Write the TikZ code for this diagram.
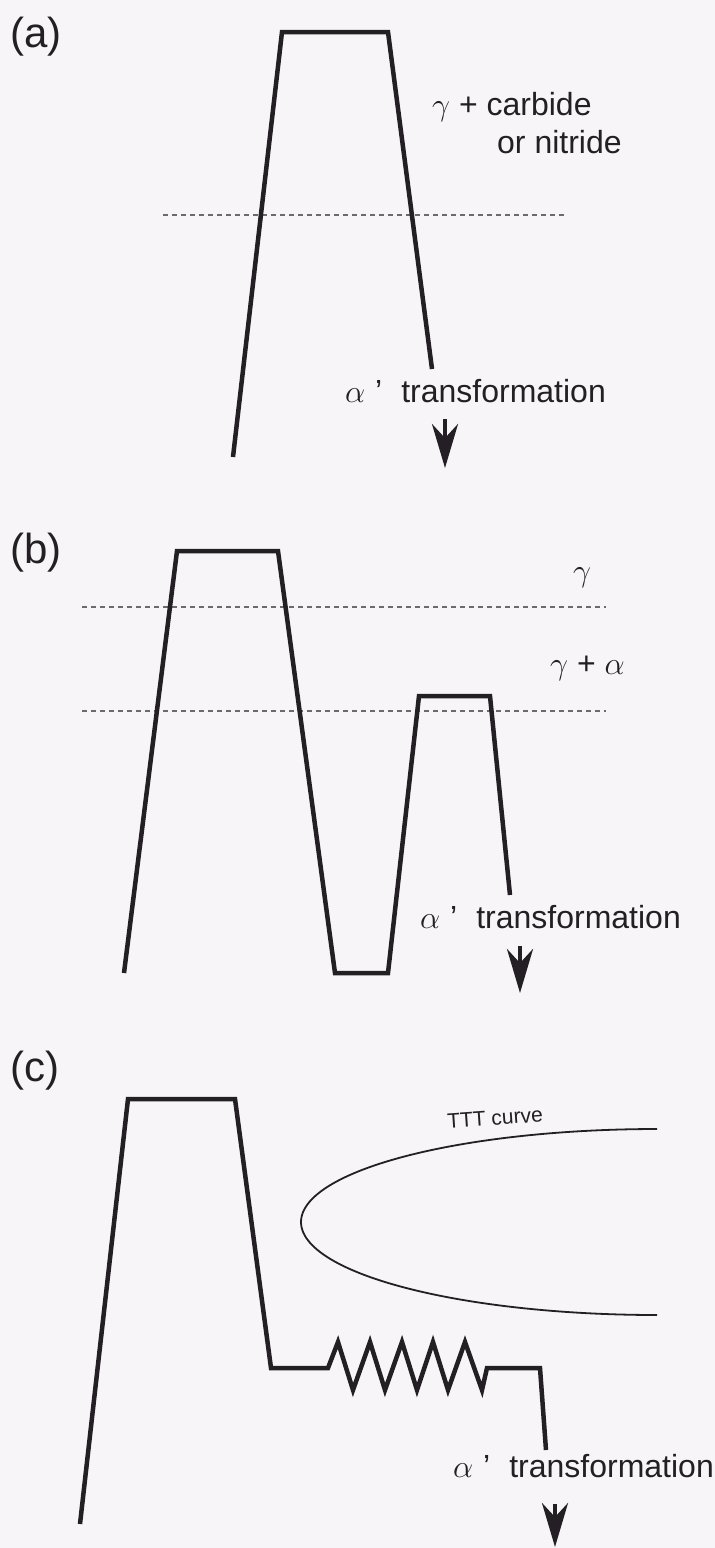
\RequirePackage{fix-cm}
\documentclass[tikz,border=0pt]{standalone}
\usepackage{fontspec}
\setmainfont{Liberation Sans}
\newcommand{\gam}{$\gamma$}
\newcommand{\alp}{$\alpha$}
\usetikzlibrary{arrows.meta}
\definecolor{bg}{RGB}{247,245,247}
\definecolor{ink}{RGB}{35,31,36}
\definecolor{guidec}{RGB}{110,105,112}
\begin{document}
\begin{tikzpicture}[x=1pt,y=-1pt,
  curvepath/.style={draw=ink,line width=4.5pt,line join=miter,line cap=butt},
  guide/.style={draw=guidec,line width=1.5pt,dash pattern=on 5pt off 4pt},
  lbl/.style={font=\fontsize{32}{36}\selectfont,text=ink,inner sep=0pt},
  panel/.style={font=\fontsize{42}{48}\selectfont,text=ink,inner sep=0pt},
  small/.style={font=\fontsize{21}{24}\selectfont,text=ink,inner sep=0pt},
  tip/.style={draw=ink,line width=4pt,-{Stealth[length=44pt,width=26pt,inset=14pt]}},
  ttt/.style={draw=ink,line width=1.8pt}]
\fill[bg] (0,0) rectangle (715,1548);
\useasboundingbox (0,0) rectangle (715,1548);

% ---------- panel (a)
\node[panel,anchor=base west] (la) at (10,47) {(a)};
\draw[guide] (163,215) -- (565,215);
\draw[curvepath] (233,457) -- (282,32) -- (388,32) -- (432,369);
\node[lbl,anchor=base west] (a1) at (432,115) {\gam\ + carbide};
\node[lbl,anchor=base west] (a2) at (497,153) {or nitride};
\node[lbl,anchor=base west] (a3) at (345,402) {\makebox[30pt][l]{\alp}’\hspace{19pt}transformation};
\coordinate (aTop) at (445,419);
\coordinate (aEnd) at (445,468);
\draw[tip] (aTop) -- (aEnd);

% ---------- panel (b)
\node[panel,anchor=base west] (lb) at (10,563) {(b)};
\draw[guide] (82,607) -- (606,607);
\draw[guide] (82,711) -- (606,711);
\draw[curvepath] (124,973) -- (177,551) -- (278,551) -- (335,973) -- (388,973)
  -- (419,696) -- (490,696) -- (510,895);
\node[lbl,anchor=base west] (b1) at (573,581) {\gam};
\node[lbl,anchor=base west] (b2) at (550,674) {\gam\ + \alp};
\node[lbl,anchor=base west] (b3) at (420,928) {\makebox[30pt][l]{\alp}’\hspace{19pt}transformation};
\coordinate (bTop) at (520,946);
\coordinate (bEnd) at (520,993);
\draw[tip] (bTop) -- (bEnd);

% ---------- panel (c)
\node[panel,anchor=base west] (lc) at (10,1081) {(c)};
\draw[ttt] plot[domain=0:180,samples=120,smooth] ({657-356*sin(\x)},{1222-93*cos(\x)});
\node[small,rotate=4] (c0) at (495,1118) {TTT curve};
\draw[curvepath] (80,1524) -- (128,1099) -- (235,1099) -- (271,1368) -- (328,1368)
  -- (338,1342) -- (353,1390) -- (370,1342) -- (385,1390) -- (402,1342) -- (417,1390)
  -- (433,1342) -- (448,1390) -- (465,1342) -- (482,1390) -- (487,1368) -- (540,1368)
  -- (546,1450);
\node[lbl,anchor=base west] (c3) at (453,1477) {\makebox[30pt][l]{\alp}’\hspace{19pt}transformation};
\coordinate (cTop) at (555,1504);
\coordinate (cEnd) at (555,1547);
\draw[tip] (cTop) -- (cEnd);
\end{tikzpicture}
\end{document}
